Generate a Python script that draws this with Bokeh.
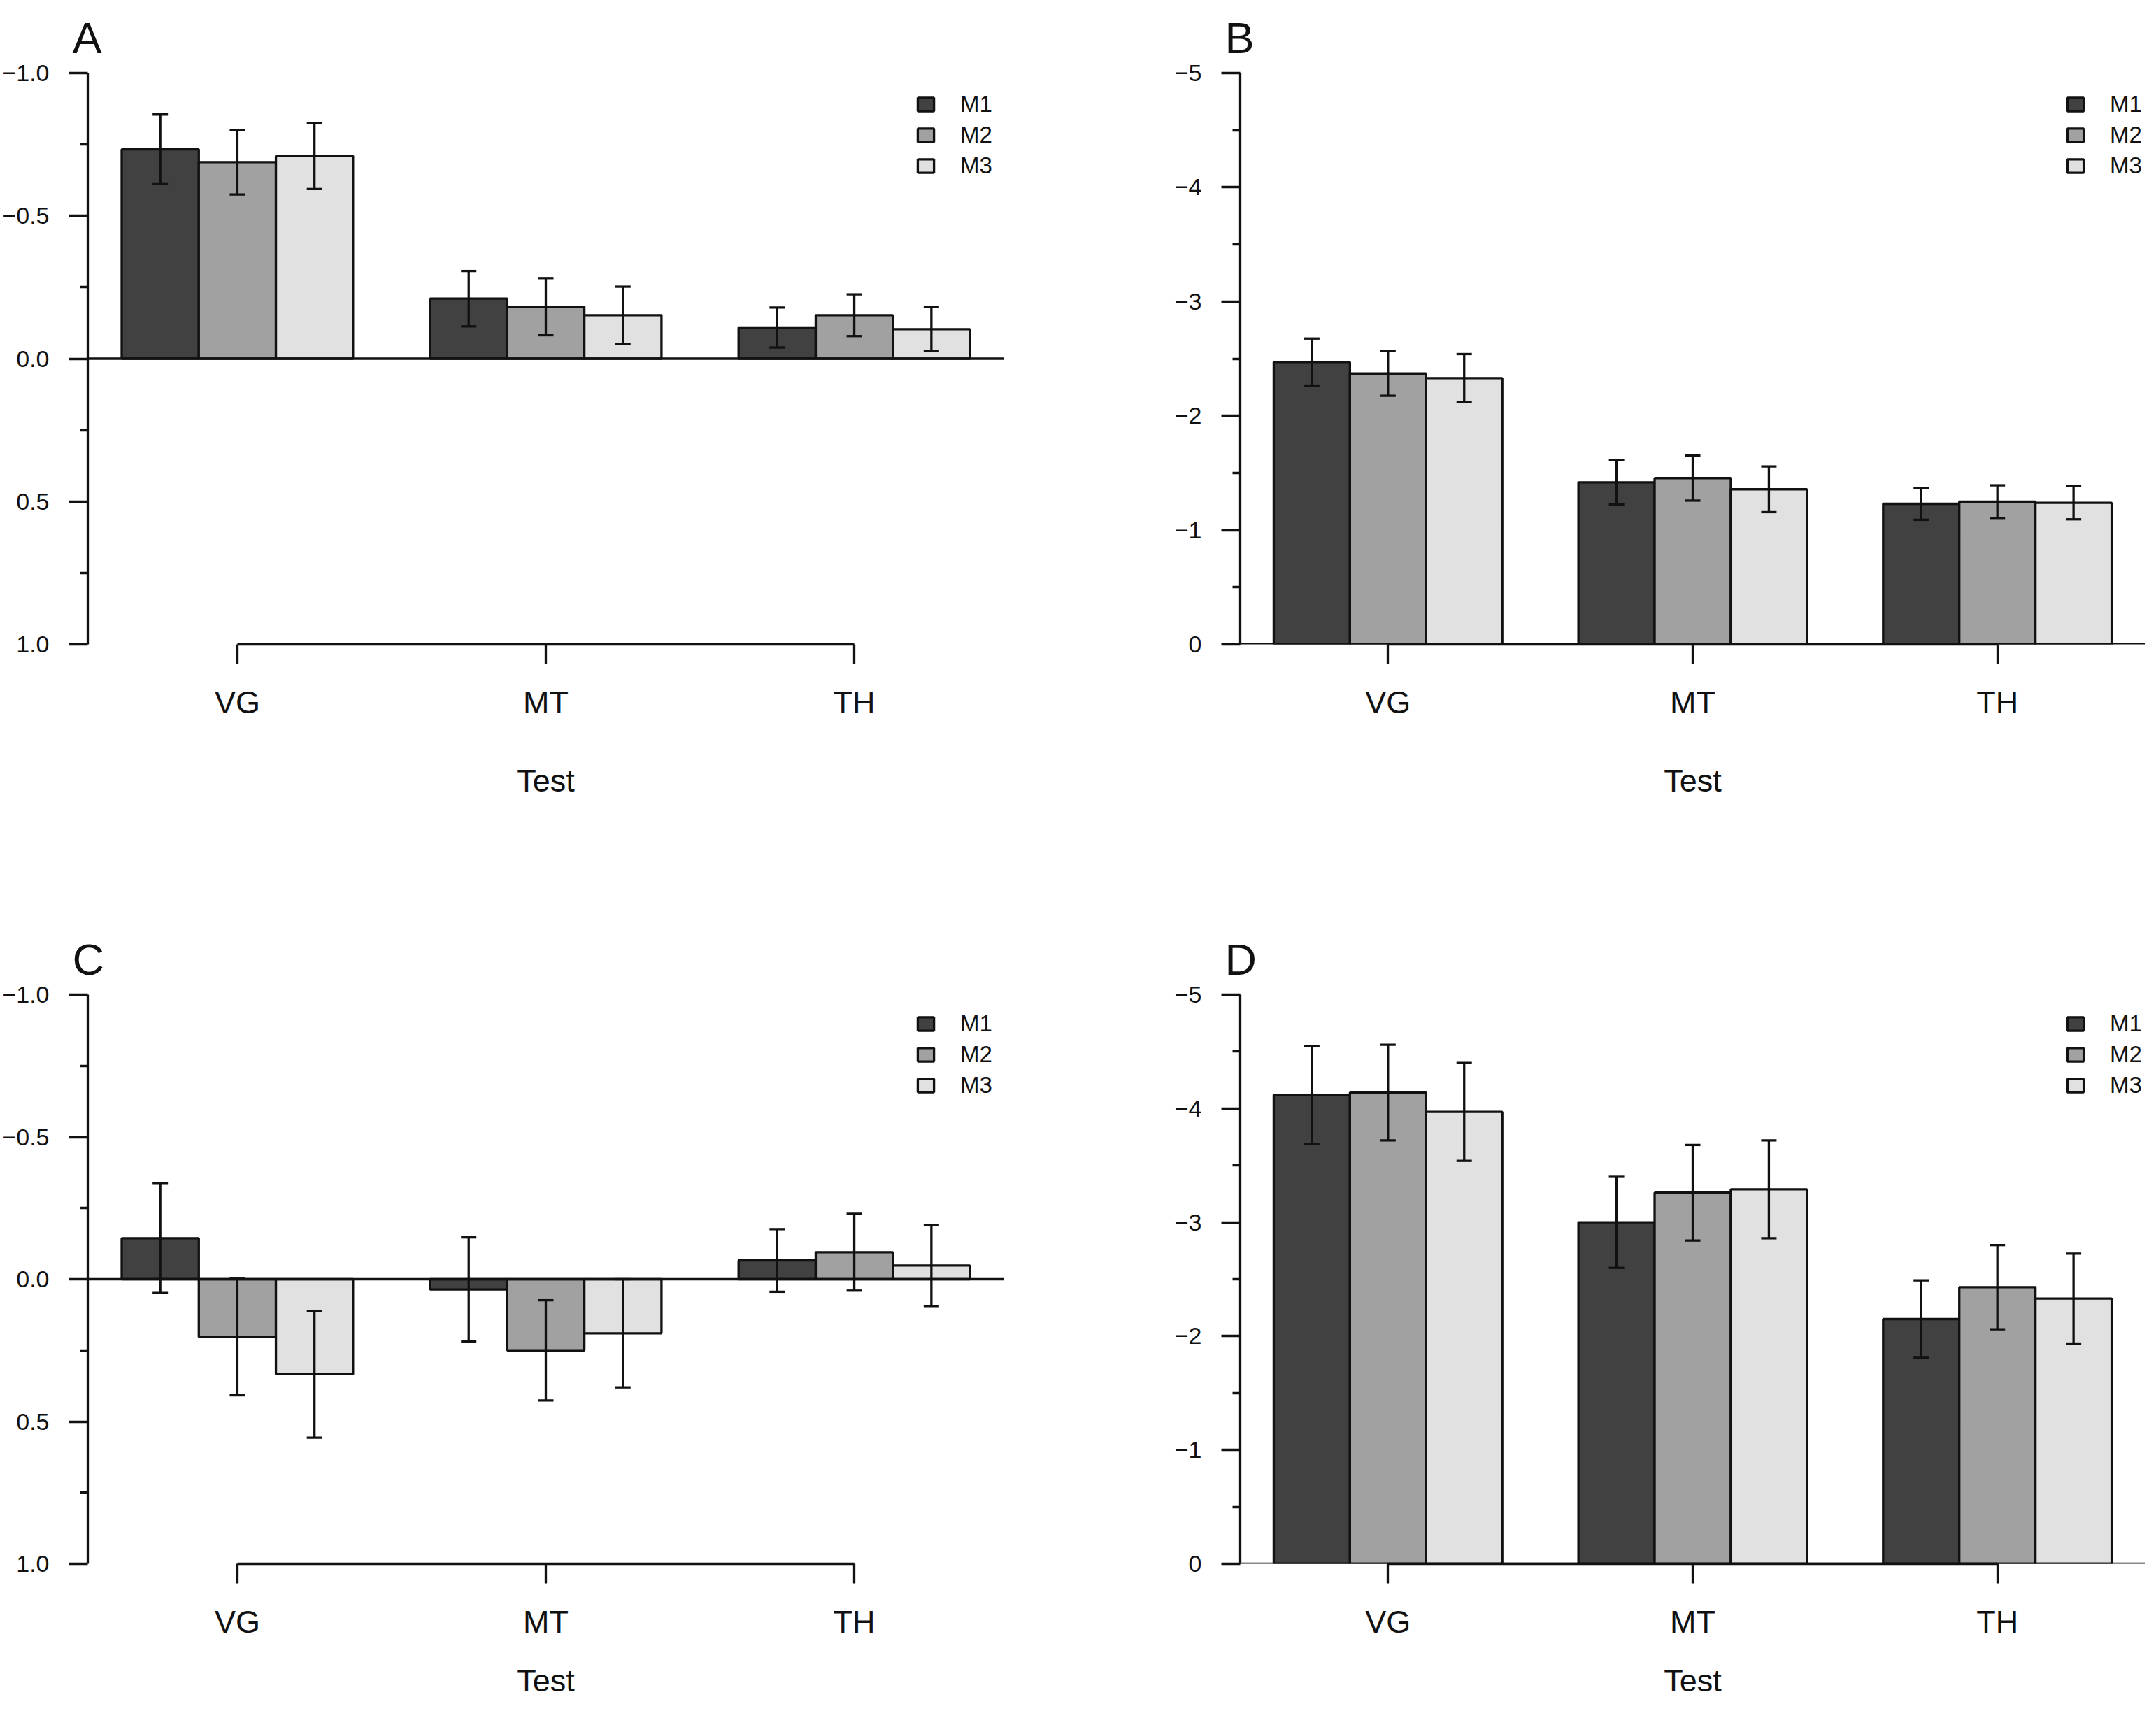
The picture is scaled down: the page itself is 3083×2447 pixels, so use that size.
from bokeh.plotting import figure
from bokeh.layouts import gridplot
from bokeh.models import (ColumnDataSource, Range1d, FixedTicker, Span, Whisker,
                          TeeHead, Legend, LegendItem)
from bokeh.embed import file_html
from bokeh.resources import INLINE

FONT = "Liberation Sans"
INK = "#111111"

tests = ["VG", "MT", "TH"]
models = ["M1", "M2", "M3"]
colors = ["#414141", "#a1a1a1", "#e1e1e1"]

# panel A
a_mean_m1 = [-0.733, -0.210, -0.109]
a_mean_m2 = [-0.688, -0.182, -0.152]
a_mean_m3 = [-0.710, -0.152, -0.103]
a_err_m1 = [0.122, 0.097, 0.070]
a_err_m2 = [0.113, 0.100, 0.073]
a_err_m3 = [0.116, 0.100, 0.077]

# panel B
b_mean_m1 = [-2.47, -1.418, -1.230]
b_mean_m2 = [-2.37, -1.455, -1.249]
b_mean_m3 = [-2.33, -1.357, -1.239]
b_err_m1 = [0.206, 0.195, 0.140]
b_err_m2 = [0.195, 0.197, 0.143]
b_err_m3 = [0.210, 0.200, 0.145]

# panel C
c_mean_m1 = [-0.144, 0.036, -0.066]
c_mean_m2 = [0.203, 0.250, -0.095]
c_mean_m3 = [0.334, 0.190, -0.048]
c_err_m1 = [0.192, 0.183, 0.110]
c_err_m2 = [0.205, 0.176, 0.135]
c_err_m3 = [0.223, 0.190, 0.142]

# panel D
d_mean_m1 = [-4.12, -3.00, -2.15]
d_mean_m2 = [-4.14, -3.26, -2.43]
d_mean_m3 = [-3.97, -3.29, -2.33]
d_err_m1 = [0.43, 0.40, 0.34]
d_err_m2 = [0.42, 0.42, 0.37]
d_err_m3 = [0.43, 0.43, 0.395]

small_ticks = [-1.0, -0.5, 0.0, 0.5, 1.0]
small_minor = [-0.75, -0.25, 0.25, 0.75]
small_labels = ["\u22121.0", "\u22120.5", "0.0", "0.5", "1.0"]
big_ticks = [-5, -4, -3, -2, -1, 0]
big_minor = [-4.5, -3.5, -2.5, -1.5, -0.5]
big_labels = ["\u22125", "\u22124", "\u22123", "\u22122", "\u22121", "0"]

TOP = 103
FRAME_H = 818
LW = 3.3


def panel(letter, means, errs, ylim, majors, minors, labels, w, h, left, right,
          lab_standoff, legend_x):
    p = figure(width=w, height=h, x_range=Range1d(0.56, 12.44), y_range=Range1d(*ylim),
               output_backend="svg", toolbar_location=None,
               min_border_left=left, min_border_right=right,
               min_border_top=TOP, min_border_bottom=h - TOP - FRAME_H)
    p.outline_line_color = None
    p.xgrid.grid_line_color = None
    p.ygrid.grid_line_color = None

    p.title.text = letter
    p.title.align = "left"
    p.title.offset = -22
    p.title.standoff = 32
    p.title.text_font = FONT
    p.title.text_font_size = "63px"
    p.title.text_font_style = "normal"
    p.title.text_color = INK

    rends = []
    for m in range(3):
        xs = [1.5 + 4 * g + m for g in range(3)]
        src = ColumnDataSource(dict(
            x=xs, top=means[m],
            upper=[v - e for v, e in zip(means[m], errs[m])],
            lower=[v + e for v, e in zip(means[m], errs[m])]))
        r = p.vbar(x="x", top="top", bottom=0, width=1.0, source=src,
                   fill_color=colors[m], line_color=INK, line_width=LW)
        rends.append(r)
        p.add_layout(Whisker(source=src, base="x", upper="upper", lower="lower",
                             line_width=LW, line_color=INK, level="overlay",
                             upper_head=TeeHead(size=22, line_width=LW, line_color=INK),
                             lower_head=TeeHead(size=22, line_width=LW, line_color=INK)))

    p.add_layout(Span(location=0, dimension="width", line_width=LW, line_color=INK))

    # y axis
    ya = p.yaxis[0]
    ya.ticker = FixedTicker(ticks=majors, minor_ticks=minors)
    ya.major_label_overrides = {v: s for v, s in zip(majors, labels)}
    ya.major_tick_out = 27
    ya.major_tick_in = 0
    ya.minor_tick_out = 11
    ya.minor_tick_in = 0
    ya.axis_line_width = LW
    ya.major_tick_line_width = LW
    ya.minor_tick_line_width = LW
    ya.axis_line_color = INK
    ya.major_tick_line_color = INK
    ya.minor_tick_line_color = INK
    ya.major_label_standoff = 28
    ya.major_label_text_font = FONT
    ya.major_label_text_font_size = "34px"
    ya.major_label_text_color = INK

    # x axis
    xa = p.xaxis[0]
    xa.ticker = FixedTicker(ticks=[2.5, 6.5, 10.5])
    xa.major_label_overrides = {2.5: tests[0], 6.5: tests[1], 10.5: tests[2]}
    xa.bounds = (2.5, 10.5)
    xa.major_tick_out = 28
    xa.major_tick_in = 0
    xa.minor_tick_line_color = None
    xa.axis_line_width = LW
    xa.major_tick_line_width = LW
    xa.axis_line_color = INK
    xa.major_tick_line_color = INK
    xa.major_label_standoff = 29
    xa.major_label_text_font = FONT
    xa.major_label_text_font_size = "45px"
    xa.major_label_text_color = INK
    xa.axis_label = "Test"
    xa.axis_label_text_font = FONT
    xa.axis_label_text_font_size = "45px"
    xa.axis_label_text_font_style = "normal"
    xa.axis_label_text_color = INK
    xa.axis_label_standoff = lab_standoff

    legend = Legend(items=[LegendItem(label=models[i], renderers=[rends[i]]) for i in range(3)],
                    location=(legend_x, FRAME_H - 27 - 126), orientation="vertical",
                    border_line_color=None, background_fill_alpha=0,
                    padding=0, margin=0, spacing=6,
                    glyph_width=29, glyph_height=24, label_height=38,
                    label_standoff=35, label_text_font=FONT,
                    label_text_font_size="33px", label_text_color=INK)
    p.add_layout(legend)
    return p


pa = panel("A", [a_mean_m1, a_mean_m2, a_mean_m3], [a_err_m1, a_err_m2, a_err_m3],
           (1.0, -1.0), small_ticks, small_minor, small_labels,
           1647, 1318, 125, 212, 58, 1184)
pb = panel("B", [b_mean_m1, b_mean_m2, b_mean_m3], [b_err_m1, b_err_m2, b_err_m3],
           (0, -5), big_ticks, big_minor, big_labels,
           1420, 1318, 126, 0, 58, 1180)
pc = panel("C", [c_mean_m1, c_mean_m2, c_mean_m3], [c_err_m1, c_err_m2, c_err_m3],
           (1.0, -1.0), small_ticks, small_minor, small_labels,
           1647, 1113, 125, 212, 30, 1184)
pd_ = panel("D", [d_mean_m1, d_mean_m2, d_mean_m3], [d_err_m1, d_err_m2, d_err_m3],
            (0, -5), big_ticks, big_minor, big_labels,
            1420, 1113, 126, 0, 30, 1180)

grid = gridplot([[pa, pb], [pc, pd_]], toolbar_location=None)

open("out.html", "w").write(file_html(grid, INLINE))
